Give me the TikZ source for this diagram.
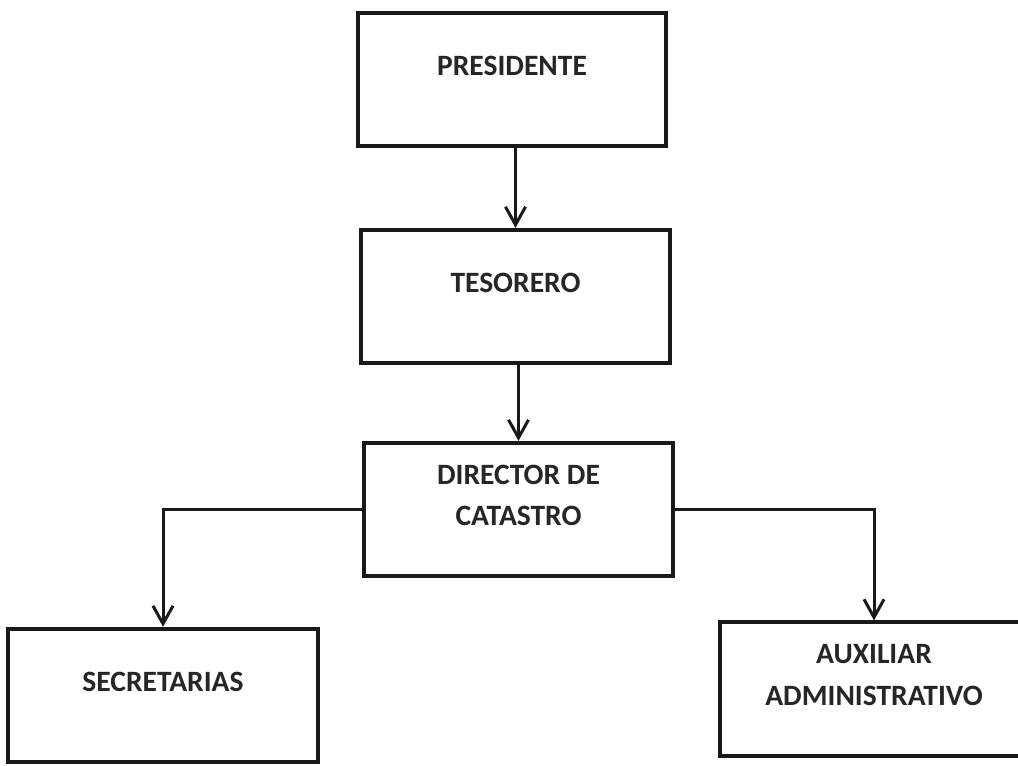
\documentclass[tikz,border=0pt]{standalone}
\usepackage{fontspec}
\setmainfont{Carlito}
\usetikzlibrary{arrows.meta}
\newcommand\boxwidth{7.7cm}
\newcommand\boxheight{3.33cm}
\newcommand\textlift{0.7cm}

\begin{document}
\begin{tikzpicture}[
    x=0.025cm,y=-0.025cm,
    post/.style={
      draw=black!90,line width=0.1cm,
      minimum width=\boxwidth,minimum height=\boxheight,
      align=center,text=black!85,text depth=\textlift,
      font=\fontsize{21pt}{29.5pt}\selectfont\bfseries},
    arr/.style={-{Straight Barb[length=0.45cm,width=0.5cm,line width=0.075cm]},
      draw=black!90,line width=0.075cm}
  ]
    \clip (0,0) rectangle (1018,766);

    \node[post] (pres) at (512,79.5) {PRESIDENTE};
    \node[post] (tes) at (515.5,296.5) {TESORERO};
    \node[post] (dir) at (518.5,509.5) {DIRECTOR DE\\CATASTRO};
    \node[post,minimum width=7.75cm] (sec) at (163,695.5) {SECRETARIAS};
    \node[post] (aux) at (874,689) {AUXILIAR\\ADMINISTRATIVO};

    \draw[arr] (pres.south -| tes.north) -- (tes.north);
    \draw[arr] (tes.south -| dir.north) -- (dir.north);

    \draw[arr] (dir.west) -| (sec.north);
    \draw[arr] (dir.east) -| (aux.north);
  \end{tikzpicture}
\end{document}
